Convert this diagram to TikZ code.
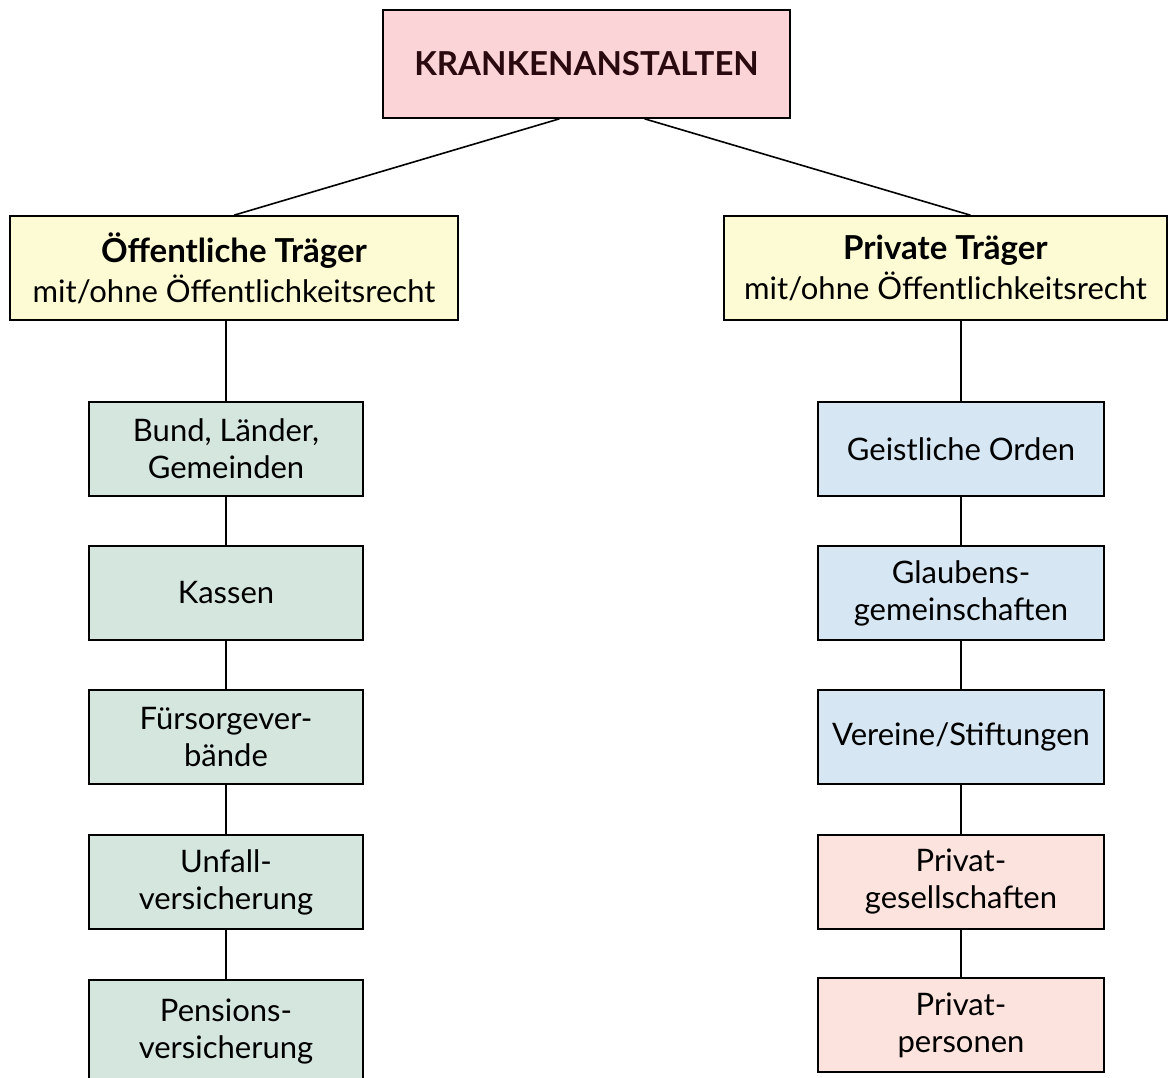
\documentclass[tikz,border=0pt]{standalone}
\usepackage{fontspec}
\setmainfont{Lato}
\usetikzlibrary{positioning}
\definecolor{headpink}{HTML}{FBD4D7}
\definecolor{headtext}{HTML}{2A0A0E}
\definecolor{traeger}{HTML}{FDFBD3}
\definecolor{oeffgreen}{HTML}{D5E6DE}
\definecolor{ordenblue}{HTML}{D6E7F3}
\definecolor{privsalmon}{HTML}{FCE3DD}
\tikzset
{
    box/.style      = {rectangle, draw=black, line width=1.6pt, align=center, inner sep=0pt, font=\fontsize{31}{37}\selectfont},
    headbox/.style  = {box, fill=headpink, minimum width=407pt, minimum height=108pt, text=headtext, font=\fontsize{33}{38}\selectfont\bfseries},
    traegerbox/.style = {box, fill=traeger, minimum height=104pt, font=\fontsize{31}{40}\selectfont},
    oeffbox/.style  = {box, fill=oeffgreen, minimum width=274pt, minimum height=94pt},
    ordenbox/.style = {box, fill=ordenblue, minimum width=286pt, minimum height=94pt},
    privbox/.style  = {box, fill=privsalmon, minimum width=286pt, minimum height=94pt}
}
\begin{document}
\begin{tikzpicture}[x=1pt, y=-1pt, line width=1.6pt]
\clip (0,0) rectangle (1176,1078);
\fill[white] (0,0) rectangle (1176,1078);
\node [headbox] at (586.5,64) (kranken) {KRANKENANSTALTEN};
\node [traegerbox, minimum width=448pt] at (234,268) (oeff) {{\fontsize{33}{40}\selectfont\bfseries Öffentliche Träger}\\mit/ohne Öffentlichkeitsrecht};
\node [traegerbox, minimum width=443pt] at (945.5,268) (priv) {{\fontsize{33}{40}\selectfont\bfseries Private Träger}\\mit/ohne Öffentlichkeitsrecht};
% oeffentliche Traeger
\node [oeffbox] at (226,449) (bund) {Bund, Länder,\\Gemeinden};
\node [oeffbox] at (226,593) (kassen) {Kassen};
\node [oeffbox] at (226,737) (fuers) {Fürsorgever-\\bände};
\node [oeffbox] at (226,882) (unfall) {Unfall-\\versicherung};
\node [oeffbox, minimum height=104pt] at (226,1032) (pension) {Pensions-\\versicherung};
% private Traeger
\node [ordenbox] at (961,449) (orden) {Geistliche Orden};
\node [ordenbox] at (961,593) (glauben) {Glaubens-\\gemeinschaften};
\node [ordenbox] at (961,737) (vereine) {Vereine/Stiftungen};
\node [privbox] at (961,882) (privges) {Privat-\\gesellschaften};
\node [privbox] at (961,1025) (privpers) {Privat-\\personen};
\draw ([xshift=-27pt]kranken.south) -- (oeff.north);
\draw ([xshift=58pt]kranken.south) -- ([xshift=25pt]priv.north);
\draw (bund.north) -- (bund.north |- oeff.south);
\draw (bund) edge (kassen);
\draw (kassen) edge (fuers);
\draw (fuers) edge (unfall);
\draw (unfall) edge (pension);
\draw (orden.north) -- (orden.north |- priv.south);
\draw (orden) edge (glauben);
\draw (glauben) edge (vereine);
\draw (vereine) edge (privges);
\draw (privges) edge (privpers);
\end{tikzpicture}
\end{document}
